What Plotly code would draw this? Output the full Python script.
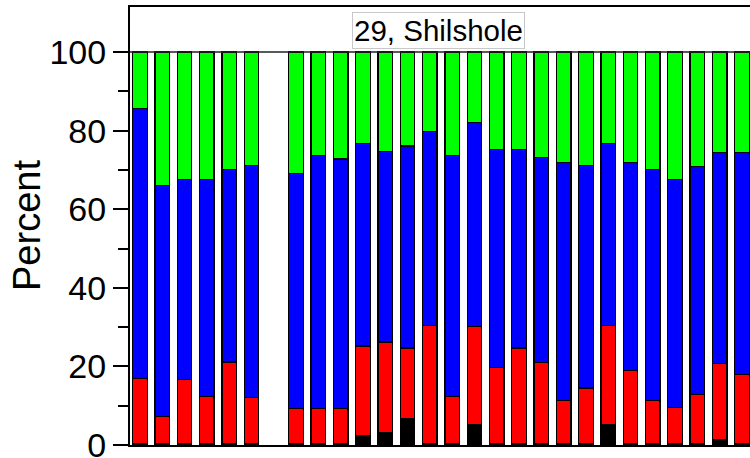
import plotly.graph_objects as go

# slot 7 has no bar
positions = [1, 2, 3, 4, 5, 6, 8, 9, 10, 11, 12, 13, 14, 15, 16, 17, 18, 19,
             20, 21, 22, 23, 24, 25, 26, 27, 28]

black = [0.3, 0.3, 0.3, 0.3, 0.3, 0.3, 0.3, 0.3, 0.3, 2.5, 3.1, 6.7, 0.3, 0.3,
         5.3, 0.3, 0.3, 0.3, 0.3, 0.3, 5.3, 0.3, 0.3, 0.3, 0.3, 1.4, 0.3]
red = [16.7, 6.9, 16.3, 12.1, 20.8, 11.8, 8.9, 8.9, 8.9, 22.7, 23.1, 18.0, 30.1, 12.0,
       24.8, 19.4, 24.4, 20.7, 11.1, 14.2, 25.1, 18.6, 11.1, 9.2, 12.6, 19.3, 17.6]
blue = [68.7, 58.8, 50.9, 55.1, 49.0, 59.0, 59.9, 64.5, 63.6, 51.6, 48.5, 51.4, 49.3, 61.4,
        51.9, 55.5, 50.5, 52.2, 60.4, 56.6, 46.4, 53.0, 58.7, 58.0, 57.9, 53.7, 56.5]
green = [14.3, 34.0, 32.5, 32.5, 29.9, 28.9, 30.9, 26.3, 27.2, 23.2, 25.3, 23.9, 20.3, 26.3,
         18.0, 24.8, 24.8, 26.8, 28.2, 28.9, 23.2, 28.1, 29.9, 32.5, 29.2, 25.6, 25.6]

series = [("black", black, "#000000"), ("red", red, "#FF0000"),
          ("blue", blue, "#0000FF"), ("green", green, "#00FF00")]

font = "Liberation Sans, Arial, sans-serif"

fig = go.Figure()
for name, vals, col in series:
    fig.add_trace(go.Bar(
        x=positions, y=vals, name=name, width=0.65,
        marker=dict(color=col, line=dict(color="black", width=1.3)),
    ))

fig.update_layout(
    width=750, height=458,
    barmode="stack",
    showlegend=False,
    plot_bgcolor="white", paper_bgcolor="white",
    margin=dict(l=130, r=0, t=7, b=13, autoexpand=False),
    font=dict(family=font, color="black"),
)

fig.update_xaxes(
    range=[0.552, 28.36],
    showgrid=False, zeroline=False,
    showticklabels=False, ticks="",
    showline=True, linecolor="black", linewidth=2, mirror=True,
    automargin=False,
)

fig.update_yaxes(
    range=[0, 111.45],
    tickvals=[0, 20, 40, 60, 80, 100],
    ticks="outside", ticklen=15, tickwidth=2, tickcolor="black",
    ticklabelstandoff=0, ticklabeloverflow="allow",
    minor=dict(tickvals=[10, 30, 50, 70, 90], ticks="outside", ticklen=10,
               tickwidth=2, tickcolor="black"),
    tickfont=dict(size=34, family=font),
    showgrid=False, zeroline=False,
    showline=True, linecolor="black", linewidth=2,
    automargin=False,
)

# line closing the plot at 100 %, under the title panel
fig.add_shape(type="line", xref="paper", yref="y", x0=0, x1=1, y0=100, y1=100,
              line=dict(color="#222222", width=1.5))

fig.add_annotation(
    text="29, Shilshole", xref="paper", yref="paper",
    x=(438 - 130) / 620, y=(445 - 30) / 438,
    xanchor="center", yanchor="middle", showarrow=False,
    font=dict(size=29.5, family=font, color="black"),
    bordercolor="#c8c8c8", borderwidth=1, borderpad=1, bgcolor="white",
)

fig.add_annotation(
    text="Percent", xref="paper", yref="paper",
    x=(27 - 130) / 620, y=0.5, textangle=-90,
    xanchor="center", yanchor="middle", showarrow=False,
    font=dict(size=38, family=font, color="black"),
)

# page body has a default 8px margin; drop it so the figure sits at the corner
fig.write_html("out.html", config={"displayModeBar": False},
               post_script="document.body.style.margin='0px';")
